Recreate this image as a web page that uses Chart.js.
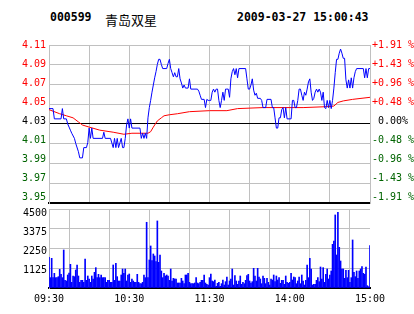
<!DOCTYPE html>
<html>
<head>
  <meta charset="UTF-8" />
  <title>000599 青岛双星</title>
  <script src="https://cdn.jsdelivr.net/npm/chart.js"></script>
  <style>
    body { margin: 0; background: #fff; }
    #wrap { position: relative; width: 414px; height: 314px; overflow: hidden; }
    #wrap canvas { position: absolute; left: 0; top: 0; }
    .head { position: absolute; top: 10px; line-height: 14px; white-space: pre; color: #000; }
    .mono { font: bold 11.5px "DejaVu Sans Mono", monospace; }
    .name { font: 13px "Noto Sans CJK SC", sans-serif; }
  </style>
</head>
<body>
  <div id="wrap">
    <span class="head mono" style="left:50px">000599</span>
    <span class="head name" style="left:105px">青岛双星</span>
    <span class="head mono" style="left:237px">2009-03-27 15:00:43</span>
    <canvas id="priceChart" width="414" height="314"></canvas>
    <canvas id="volChart" width="414" height="314"></canvas>
  </div>

  <script>
    // minutes from 09:30 (0..240, 11:30/13:00 = 120)
    const timeTicks = [0, 60, 120, 180, 240];
    const timeLabels = ['09:30', '10:30', '11:30', '14:00', '15:00'];

    const prevClose = 4.03;
    const limitPct = 1.91;

    // [minute, price]
    const priceTrace = [
      [0,4.045],[3,4.045],[4,4.035],[9,4.035],[10,4.045],[11,4.035],[13,4.035],[14,4.030],
      [15,4.027],[16,4.024],[17,4.021],[19,4.016],[20,4.011],[22,4.003],[23,3.997],[25,3.997],
      [26,4.007],[28,4.007],[29,4.012],[30,4.026],[31,4.016],[32,4.026],[33,4.016],[40,4.016],
      [41,4.022],[42,4.016],[46,4.016],[48,4.007],[49,4.016],[50,4.007],[51,4.016],[52,4.007],
      [54,4.016],[55,4.007],[56,4.007],[57,4.016],[58,4.029],[59,4.035],[60,4.026],[61,4.035],
      [62,4.026],[68,4.026],[69,4.016],[70,4.021],[71,4.016],[72,4.021],[73,4.016],[74,4.036],
      [75,4.046],[76,4.053],[77,4.061],[78,4.068],[79,4.075],[80,4.081],[81,4.088],[82,4.093],
      [83,4.093],[84,4.088],[85,4.084],[88,4.084],[89,4.089],[90,4.093],[91,4.084],[92,4.080],
      [93,4.076],[94,4.080],[95,4.076],[96,4.076],[97,4.084],[98,4.074],[99,4.070],[100,4.065],
      [101,4.068],[102,4.065],[104,4.065],[105,4.074],[106,4.064],[111,4.064],[112,4.062],
      [113,4.058],[114,4.054],[116,4.054],[117,4.046],[118,4.054],[119,4.053],[120,4.053],
      [121,4.053],[122,4.061],[123,4.064],[124,4.061],[125,4.064],[126,4.064],[127,4.053],
      [128,4.046],[129,4.053],[130,4.061],[131,4.053],[132,4.064],[133,4.064],[134,4.064],
      [135,4.056],[136,4.074],[137,4.081],[138,4.084],[139,4.078],[140,4.084],[141,4.075],
      [142,4.084],[147,4.084],[148,4.074],[149,4.064],[150,4.064],[151,4.068],[152,4.074],
      [153,4.063],[154,4.058],[155,4.060],[156,4.055],[158,4.055],[159,4.053],[160,4.046],
      [162,4.046],[163,4.054],[166,4.054],[167,4.046],[168,4.046],[169,4.036],[170,4.026],
      [171,4.026],[172,4.036],[173,4.036],[174,4.044],[175,4.046],[176,4.036],[177,4.046],
      [178,4.035],[181,4.035],[182,4.053],[183,4.053],[184,4.046],[185,4.046],[186,4.053],
      [187,4.064],[188,4.064],[189,4.058],[190,4.053],[191,4.061],[192,4.058],[193,4.064],
      [194,4.071],[195,4.074],[196,4.061],[197,4.053],[198,4.055],[199,4.061],[200,4.064],
      [201,4.061],[202,4.064],[203,4.061],[204,4.053],[205,4.061],[206,4.046],[207,4.045],
      [208,4.053],[209,4.046],[210,4.053],[211,4.045],[212,4.053],[213,4.065],[214,4.080],
      [215,4.093],[216,4.093],[217,4.099],[218,4.103],[219,4.099],[220,4.094],[221,4.094],
      [222,4.073],[223,4.065],[224,4.073],[225,4.065],[226,4.075],[227,4.065],[228,4.075],
      [229,4.081],[230,4.084],[235,4.084],[236,4.075],[237,4.084],[238,4.075],[239,4.084],
      [240,4.084]
    ];

    // [minute, average price]
    const avgTrace = [
      [0,4.044],[8,4.040],[13,4.038],[18,4.036],[22,4.032],[25,4.029],[30,4.027],[38,4.024],
      [48,4.022],[56,4.020],[62,4.021],[74,4.021],[76,4.0225],[78,4.027],[81,4.033],[84,4.036],
      [86,4.038],[90,4.039],[96,4.040],[105,4.042],[120,4.043],[133,4.043],[141,4.045],
      [160,4.046],[190,4.046],[210,4.047],[213,4.0475],[216,4.051],[220,4.0525],[227,4.054],
      [240,4.056]
    ];

    // one bar per minute, 0..240
    const volume = [
      1748,589,1691,589,836,589,589,646,1064,779,
      589,2166,437,399,741,855,1349,323,684,646,
      1026,1311,684,323,437,437,323,1653,437,684,
      513,323,684,513,893,1159,589,779,589,741,
      589,589,589,323,437,437,323,323,1311,437,
      1406,646,399,399,741,1083,836,1083,399,741,
      798,323,513,399,323,323,779,323,247,247,
      323,741,589,3743,589,1596,2394,1558,1938,1824,
      1501,3819,1463,1881,969,589,836,684,741,684,
      437,1083,399,551,513,513,285,285,285,551,
      399,247,741,741,836,323,247,247,247,285,
      589,285,247,323,437,437,741,285,209,171,
      589,798,399,361,456,95,266,323,95,247,
      456,171,361,627,171,399,513,1083,171,703,
      399,209,399,684,209,323,247,437,703,779,
      399,285,361,1121,684,399,1121,627,513,247,
      684,551,247,551,323,171,513,456,741,
      361,684,456,589,266,437,437,209,684,323,
      266,323,836,456,627,589,247,399,627,247,
      741,399,171,437,1311,589,1691,1083,171,209,
      209,437,589,361,1197,513,1159,323,779,1083,
      513,741,969,2489,2679,4161,1881,4313,2318,1539,
      1083,1083,551,1007,589,1007,323,589,2736,893,
      646,969,551,969,1083,1216,836,779,1197,133,
      76,2413
    ];
    const volMax = 4500;

    const RED = '#ff0000', GREEN = '#006400', GRID = '#c0c0c0';
    const tickFont = { family: 'DejaVu Sans Mono', size: 10 };
    const yMin = prevClose * (1 - limitPct / 100);
    const yMax = prevClose * (1 + limitPct / 100);
    // the original's labels sit on a slightly tighter pitch than its grid
    const labelPitch = 0.967;

    function sideColor(i) {
      if (i < 4) return RED;
      if (i > 4) return GREEN;
      return '#000';
    }

    function pctLabel(i) {
      const k = 4 - i;
      if (k === 0) return ' 0.00%';
      const p = (Math.round(Math.abs(k) * limitPct / 4 * 100 + 1e-6) / 100).toFixed(2);
      return (k > 0 ? '+' : '-') + p + ' %';
    }

    function priceLabel(i) {
      return (yMax - i * (yMax - yMin) / 8).toFixed(2);
    }

    // label ticks, top to bottom (index 0 = top)
    const priceLabelTicks = scale => {
      scale.ticks = [];
      for (let i = 0; i <= 8; i++) scale.ticks.push({ value: yMax - i * labelPitch * (yMax - yMin) / 8 });
    };
    const priceGridTicks = scale => {
      scale.ticks = [];
      for (let i = 0; i <= 8; i++) scale.ticks.push({ value: yMin + i * (yMax - yMin) / 8 });
    };

    const timeAxis = (showLabels) => ({
      type: 'linear', min: 0, max: 240,
      afterBuildTicks: s => { s.ticks = [0, 30, 60, 90, 120, 150, 180, 210, 240].map(v => ({ value: v })); },
      afterFit: s => { s.height = showLabels ? 26 : 0; },
      grid: { color: GRID, drawTicks: false },
      border: { color: '#000', width: 2 },
      ticks: {
        display: showLabels, autoSkip: false, maxRotation: 0, padding: 5,
        color: '#000', font: tickFont,
        callback: v => { const i = timeTicks.indexOf(v); return i >= 0 ? timeLabels[i] : ''; }
      }
    });

    const gridOnlyAxis = (min, max, build, colorFn) => ({
      position: 'left', min: min, max: max, weight: 10,
      afterBuildTicks: build,
      afterFit: s => { s.width = 0; },
      grid: { drawTicks: false, color: colorFn },
      border: { display: false },
      ticks: { display: false }
    });

    new Chart(document.getElementById('priceChart'), {
      type: 'line',
      data: {
        datasets: [
          {
            data: priceTrace.map(p => ({ x: p[0], y: p[1] })),
            borderColor: '#0000ff', borderWidth: 1, pointRadius: 0, order: 1
          },
          {
            data: avgTrace.map(p => ({ x: p[0], y: p[1] })),
            borderColor: RED, borderWidth: 1, pointRadius: 0, order: 2
          }
        ]
      },
      options: {
        responsive: false, animation: false, devicePixelRatio: 1,
        layout: { padding: { top: 45, bottom: 111, left: 0, right: 0 } },
        plugins: { legend: { display: false }, tooltip: { enabled: false } },
        scales: {
          x: timeAxis(false),
          yg: gridOnlyAxis(yMin, yMax, priceGridTicks,
            c => (c.index === 4 || c.index === 0) ? '#000' : GRID),
          y: {
            position: 'left', min: yMin, max: yMax,
            afterBuildTicks: priceLabelTicks,
            afterFit: s => { s.width = 49; },
            grid: { display: false, drawTicks: false },
            border: { color: GRID },
            ticks: {
              padding: 3, font: tickFont,
              color: c => sideColor(c.index),
              callback: (v, i) => priceLabel(i)
            }
          },
          y2: {
            position: 'right', min: yMin, max: yMax,
            afterBuildTicks: priceLabelTicks,
            afterFit: s => { s.width = 44; },
            grid: { display: false, drawTicks: false },
            border: { color: GRID },
            ticks: {
              padding: 2, font: tickFont,
              color: c => sideColor(c.index),
              callback: (v, i) => pctLabel(i)
            }
          }
        }
      }
    });

    new Chart(document.getElementById('volChart'), {
      type: 'bar',
      data: {
        datasets: [{
          data: volume.map((v, i) => ({ x: i, y: v })),
          backgroundColor: '#0000ff', barThickness: 1
        }]
      },
      options: {
        responsive: false, animation: false, devicePixelRatio: 1,
        layout: { padding: { top: 209, bottom: 0, left: 0, right: 44 } },
        plugins: { legend: { display: false }, tooltip: { enabled: false } },
        scales: {
          x: Object.assign(timeAxis(true), { offset: false }),
          yg: gridOnlyAxis(0, volMax,
            s => { s.ticks = [0, 1, 2, 3, 4].map(i => ({ value: i * volMax / 4 })); },
            GRID),
          y: {
            position: 'left', min: 0, max: volMax,
            afterBuildTicks: s => {
              s.ticks = [0, 1, 2, 3].map(i => ({ value: volMax - i * 0.972 * volMax / 4 }));
            },
            afterFit: s => { s.width = 49; },
            grid: { display: false, drawTicks: false },
            border: { color: GRID },
            ticks: {
              padding: 2, font: tickFont, color: '#000', labelOffset: 4,
              callback: (v, i) => String(volMax - i * volMax / 4)
            }
          }
        }
      }
    });
  </script>
</body>
</html>
